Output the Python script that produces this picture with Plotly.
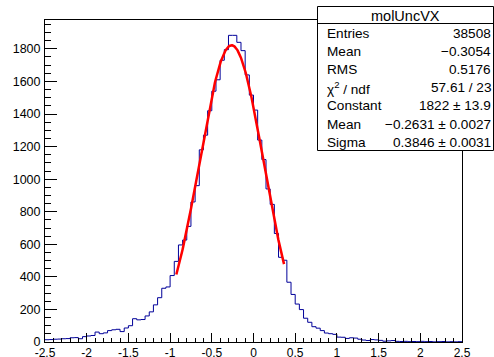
import numpy as np
import plotly.graph_objects as go

# ---------------- data ----------------
HIST_NAME = "molUncVX"
X_MIN, X_MAX, N_BINS = -2.5, 2.5, 100

counts = [
    14, 15, 17, 18, 20, 21, 26, 27, 20, 33,
    37, 40, 61, 51, 56, 70, 75, 78, 64, 86,
    100, 143, 136, 138, 160, 185, 228, 272, 330, 338,
    408, 495, 596, 626, 710, 860, 960, 1180, 1270, 1420,
    1540, 1610, 1730, 1795, 1883, 1883, 1840, 1789, 1640, 1516,
    1424, 1240, 1120, 940, 845, 666, 520, 502, 367, 292,
    233, 199, 146, 121, 94, 85, 70, 55, 51, 47,
    30, 29, 22, 26, 24, 17, 12, 9, 15, 13,
    10, 5, 7, 9, 4, 3, 4, 2, 3, 2,
    4, 2, 3, 1, 2, 3, 1, 2, 1, 2,
]

fit_constant = 1822.0
fit_mean = -0.2631
fit_sigma = 0.3846
fit_range = (-0.925, 0.366)

stat_labels = ["Entries", "Mean", "RMS", "χ<sup>2</sup> / ndf", "Constant", "Mean", "Sigma"]
stat_values = ["38508", "−0.3054", "0.5176", "57.61 / 23", "1822 ± 13.9",
               "−0.2631 ± 0.0027", "0.3846 ± 0.0031"]

x_tickvals = [-2.5, -2, -1.5, -1, -0.5, 0, 0.5, 1, 1.5, 2, 2.5]
x_ticktext = ["-2.5", "-2", "-1.5", "-1", "-0.5", "0", "0.5", "1", "1.5", "2", "2.5"]
y_tickvals = [0, 200, 400, 600, 800, 1000, 1200, 1400, 1600, 1800]

# ---------------- layout geometry ----------------
W, H = 494, 357
ML, MR, MT, MB = 45, 32, 20, 15
PW, PH = W - ML - MR, H - MT - MB
FONT = "Liberation Sans, Arial, Helvetica, sans-serif"


def px2paper_x(px):
    return (px - ML) / PW


def px2paper_y(py):
    return (H - MB - py) / PH


edges = np.linspace(X_MIN, X_MAX, N_BINS + 1)
step_x = list(edges)
step_y = list(counts) + [counts[-1]]

xf = np.linspace(fit_range[0], fit_range[1], 300)
yf = fit_constant * np.exp(-0.5 * ((xf - fit_mean) / fit_sigma) ** 2)

fig = go.Figure()
fig.add_trace(go.Scatter(x=step_x, y=step_y, mode="lines",
                         line=dict(color="#000099", width=1, shape="hv"),
                         hoverinfo="skip", showlegend=False))
fig.add_trace(go.Scatter(x=xf, y=yf, mode="lines",
                         line=dict(color="#ff0000", width=2.5),
                         hoverinfo="skip", showlegend=False))

y_max = 1.05 * max(counts)

fig.update_layout(
    width=W, height=H, autosize=False,
    margin=dict(l=ML, r=MR, t=MT, b=MB, pad=0, autoexpand=False),
    paper_bgcolor="white", plot_bgcolor="white",
    font=dict(family=FONT, color="black", size=12),
    showlegend=False,
    xaxis=dict(range=[X_MIN, X_MAX], showgrid=False, zeroline=False,
               automargin=False,
               showline=True, linecolor="black", linewidth=1, mirror=True,
               ticks="inside", ticklen=9, tickcolor="black", tickwidth=1,
               tickvals=x_tickvals, ticktext=x_ticktext,
               tickfont=dict(size=12, family=FONT, color="black"),
               ticklabelstandoff=0,
               minor=dict(ticks="inside", ticklen=4.5, dtick=0.1,
                          tick0=X_MIN, tickcolor="black", showgrid=False)),
    yaxis=dict(range=[0, y_max], showgrid=False, zeroline=False,
               automargin=False,
               showline=True, linecolor="black", linewidth=1, mirror=True,
               ticks="inside", ticklen=12, tickcolor="black", tickwidth=1,
               tickvals=y_tickvals,
               tickfont=dict(size=12.5, family=FONT, color="black"),
               ticklabelstandoff=1,
               minor=dict(ticks="inside", ticklen=6, dtick=50, tick0=0,
                          tickcolor="black", showgrid=False)),
)

# ---------------- stats box ----------------
box_l, box_r, box_t, box_b, sep = 317.5, 493.5, 6.5, 150.5, 23.5
fig.add_shape(type="rect", xref="paper", yref="paper", layer="above",
              x0=px2paper_x(box_l), x1=px2paper_x(box_r),
              y0=px2paper_y(box_b), y1=px2paper_y(box_t),
              line=dict(color="black", width=1), fillcolor="white")
fig.add_shape(type="line", xref="paper", yref="paper", layer="above",
              x0=px2paper_x(box_l), x1=px2paper_x(box_r),
              y0=px2paper_y(sep), y1=px2paper_y(sep),
              line=dict(color="black", width=1))

fig.add_annotation(x=px2paper_x((box_l + box_r) / 2), y=px2paper_y(15.5),
                   xref="paper", yref="paper", text=HIST_NAME, showarrow=False,
                   xanchor="center", yanchor="middle",
                   font=dict(size=14.5, family=FONT, color="black"))

row_y = [33, 51.2, 69.4, 87.6, 105.8, 124, 142.2]
for lab, val, ry in zip(stat_labels, stat_values, row_y):
    fig.add_annotation(x=px2paper_x(325), y=px2paper_y(ry), xref="paper", yref="paper",
                       text=lab, showarrow=False, xanchor="left", yanchor="middle",
                       font=dict(size=13.6, family=FONT, color="black"))
    fig.add_annotation(x=px2paper_x(493), y=px2paper_y(ry), xref="paper", yref="paper",
                       text=val, showarrow=False, xanchor="right", yanchor="middle",
                       font=dict(size=13.6, family=FONT, color="black"))

fig.write_html("out.html")
